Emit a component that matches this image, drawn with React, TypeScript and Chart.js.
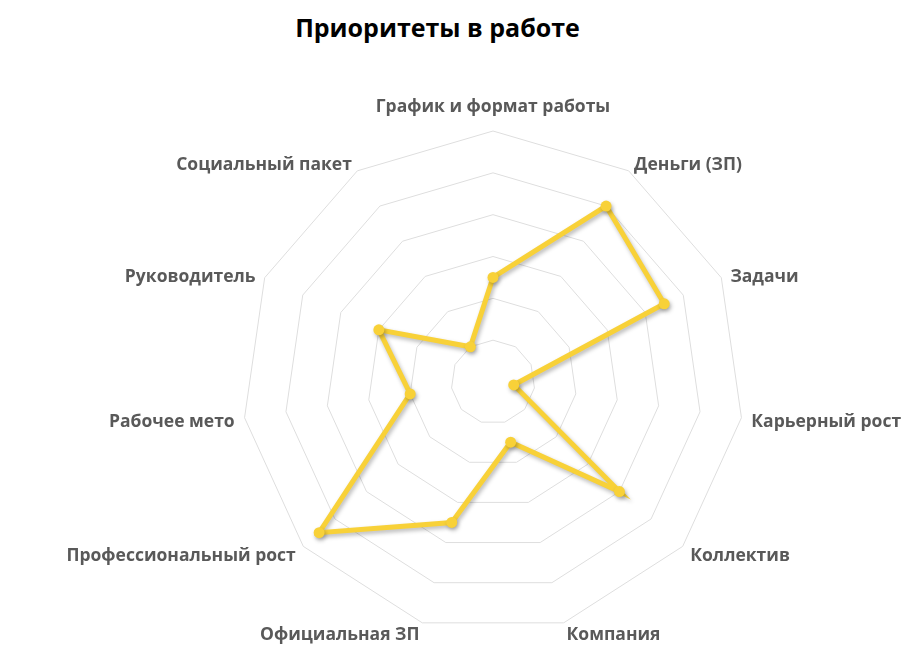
// Radar chart — "Приоритеты в работе"
import { useEffect, useRef } from 'react';
import { Chart, registerables, type Plugin, type RadialLinearScale } from 'chart.js';

Chart.register(...registerables);

// ---- Data ----
const categories = [
  'График и формат работы',
  'Деньги (ЗП)',
  'Задачи',
  'Карьерный рост',
  'Коллектив',
  'Компания',
  'Официальная ЗП',
  'Профессиональный рост',
  'Рабочее мето',
  'Руководитель',
  'Социальный пакет',
];
const priorityValues = [2.5, 5, 4.5, 0.5, 4, 1.5, 3.5, 5.5, 2, 3, 1];
const scaleMin = 0;
const scaleMax = 6;
const scaleStep = 1;

// ---- Style ----
const TITLE = 'Приоритеты в работе';
const LINE_COLOR = '#F8D138';
const LABEL_COLOR = '#595959';
const FONT = "'Open Sans', 'Noto Sans', sans-serif";
const LABEL_SIZE = 17.5;
const LABEL_GAP = 10;       // от внешнего кольца до подписи
const LABEL_DROP = 3;       // 'middle' у кириллицы визуально выше центра
const TOP_LABEL_LIFT = 17;  // подпись строго сверху/снизу сдвигается дальше

// мягкая тень под линией, как в оригинале
const shadowPlugin: Plugin<'radar'> = {
  id: 'lineShadow',
  beforeDatasetsDraw(chart) {
    const ctx = chart.ctx;
    ctx.save();
    ctx.shadowColor = 'rgba(0,0,0,0.28)';
    ctx.shadowBlur = 4;
    ctx.shadowOffsetX = 1.5;
    ctx.shadowOffsetY = 2.5;
  },
  afterDatasetsDraw(chart) {
    chart.ctx.restore();
  },
};

// Подписи осей в стиле Excel: по центру по вертикали, прижаты к точке оси слева/справа
const pointLabelPlugin: Plugin<'radar'> = {
  id: 'excelPointLabels',
  afterDraw(chart) {
    const scale = chart.scales.r as RadialLinearScale;
    const ctx = chart.ctx;
    const labels = (chart.data.labels ?? []) as string[];
    ctx.save();
    ctx.font = `bold ${LABEL_SIZE}px ${FONT}`;
    ctx.fillStyle = LABEL_COLOR;
    ctx.textBaseline = 'middle';
    labels.forEach((label, i) => {
      const angle = scale.getIndexAngle(i);
      const pos = scale.getPointPosition(i, scale.drawingArea + LABEL_GAP);
      const sin = Math.sin(angle);
      let y = pos.y + LABEL_DROP;
      if (Math.abs(sin) < 0.01) {
        ctx.textAlign = 'center';
        y += Math.cos(angle) > 0 ? -TOP_LABEL_LIFT : TOP_LABEL_LIFT;
      } else {
        ctx.textAlign = sin > 0 ? 'left' : 'right';
      }
      ctx.fillText(label, pos.x, y);
    });
    ctx.restore();
  },
};

function PriorityRadar() {
  const canvasRef = useRef<HTMLCanvasElement>(null);
  const chartRef = useRef<Chart<'radar'> | null>(null);

  useEffect(() => {
    if (!canvasRef.current) return;
    chartRef.current?.destroy();
    chartRef.current = new Chart(canvasRef.current, {
      type: 'radar',
      data: {
        labels: categories,
        datasets: [{
          label: TITLE,
          data: priorityValues,
          borderColor: LINE_COLOR,
          backgroundColor: 'transparent',
          borderWidth: 5,
          pointBackgroundColor: LINE_COLOR,
          pointBorderColor: LINE_COLOR,
          pointRadius: 5.5,
          pointBorderWidth: 0,
          fill: false,
          tension: 0,
        }],
      },
      options: {
        animation: false,
        responsive: true,
        maintainAspectRatio: false,
        layout: { padding: { left: 242, right: 180, top: 131, bottom: 30 } },
        plugins: {
          legend: { display: false },
          title: { display: false },
          tooltip: { enabled: false },
        },
        scales: {
          r: {
            min: scaleMin,
            max: scaleMax,
            ticks: { stepSize: scaleStep, display: false },
            angleLines: { display: false },
            grid: { color: '#dedede', lineWidth: 1 },
            pointLabels: { display: false },
          },
        },
      },
      plugins: [shadowPlugin, pointLabelPlugin],
    });
    return () => { chartRef.current?.destroy(); chartRef.current = null; };
  }, []);

  return <canvas ref={canvasRef} />;
}

export default function App() {
  useEffect(() => {
    document.body.style.margin = '0';
  }, []);

  return (
    <div style={{ position: 'fixed', left: 0, top: 0, width: 924, height: 663, background: '#fff' }}>
      <div
        style={{
          position: 'absolute', left: 0, width: 875, top: 9, textAlign: 'center',
          fontFamily: FONT, fontWeight: 700, fontSize: 25, color: '#000', lineHeight: '36px',
        }}
      >
        {TITLE}
      </div>
      <div style={{ position: 'absolute', inset: 0 }}>
        <PriorityRadar />
      </div>
    </div>
  );
}
